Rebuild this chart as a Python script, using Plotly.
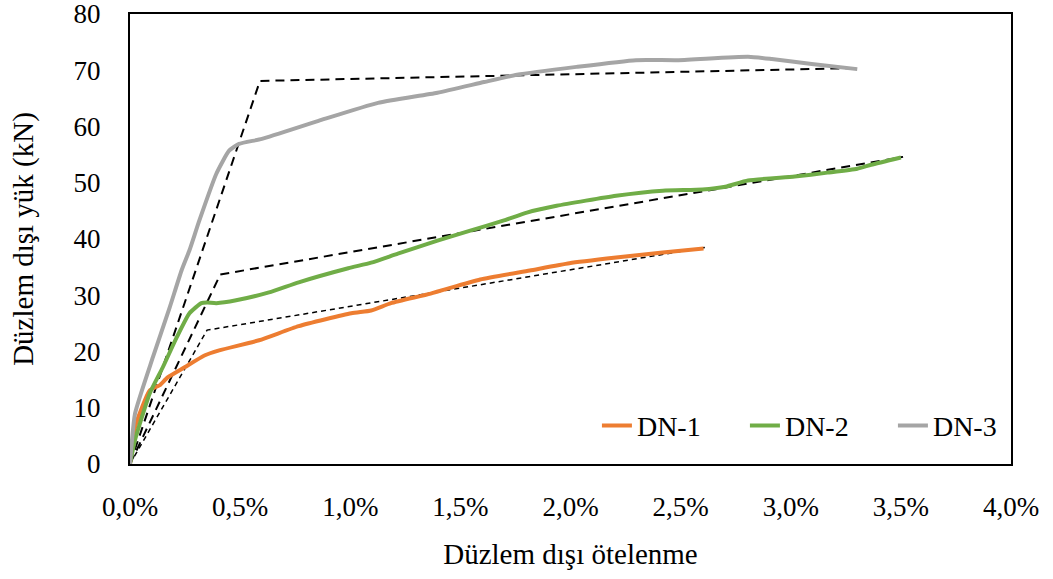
import plotly.graph_objects as go

# Measured curves (x in %, y in kN)
dn1_x = [0, 0.023, 0.09, 0.135, 0.171, 0.248, 0.338, 0.405, 0.586, 0.766, 1.005, 1.095, 1.185, 1.365, 1.59, 1.815, 1.995, 2.207, 2.419, 2.604]
dn1_y = [0, 6.6, 13.1, 14.0, 15.4, 17.2, 19.3, 20.2, 22.0, 24.5, 26.8, 27.3, 28.6, 30.3, 32.8, 34.4, 35.7, 36.7, 37.6, 38.3]

dn2_x = [0, 0.023, 0.09, 0.149, 0.212, 0.27, 0.324, 0.351, 0.392, 0.482, 0.631, 0.766, 0.991, 1.095, 1.216, 1.396, 1.545, 1.698, 1.802, 1.937, 2.207, 2.419, 2.599, 2.703, 2.806, 3.018, 3.167, 3.302, 3.365, 3.5]
dn2_y = [0, 4.3, 12.6, 17.2, 22.5, 26.8, 28.6, 28.7, 28.6, 29.1, 30.5, 32.3, 34.8, 35.8, 37.4, 39.7, 41.5, 43.3, 44.7, 45.9, 47.7, 48.6, 48.8, 49.3, 50.4, 51.1, 51.8, 52.5, 53.2, 54.5]

dn3_x = [0, 0.023, 0.104, 0.18, 0.234, 0.27, 0.315, 0.392, 0.45, 0.495, 0.599, 0.856, 1.126, 1.396, 1.608, 1.757, 2.027, 2.297, 2.491, 2.806, 2.914, 3.095, 3.302]
dn3_y = [0, 9.0, 19.0, 27.8, 34.4, 38.0, 43.3, 51.6, 55.7, 56.9, 57.8, 61.0, 64.2, 66.0, 67.9, 69.2, 70.6, 71.8, 71.8, 72.4, 72.0, 71.1, 70.2]

# Bilinear idealisations
bl1_x = [0, 0.35, 2.61]
bl1_y = [0, 23.8, 38.5]
bl2_x = [0, 0.41, 3.51]
bl2_y = [0, 33.7, 54.6]
bl3_x = [0, 0.59, 3.31]
bl3_y = [0, 68.1, 70.4]

x_ticks = [0, 0.5, 1.0, 1.5, 2.0, 2.5, 3.0, 3.5, 4.0]
y_ticks = [0, 10, 20, 30, 40, 50, 60, 70, 80]

FONT = "Liberation Serif, Times New Roman, serif"

def pct(v):
    return [a / 100 for a in v]

fig = go.Figure()
for bx, by, w, d in [(bl1_x, bl1_y, 1.5, "5px,4px"), (bl2_x, bl2_y, 2, "9px,6px"), (bl3_x, bl3_y, 2, "9px,6px")]:
    fig.add_trace(go.Scatter(x=pct(bx), y=by, mode="lines", showlegend=False,
                             line=dict(color="black", width=w, dash=d)))

for name, xs, ys, col in [("DN-1", dn1_x, dn1_y, "#ED7D31"),
                          ("DN-2", dn2_x, dn2_y, "#70AD47"),
                          ("DN-3", dn3_x, dn3_y, "#A5A5A5")]:
    fig.add_trace(go.Scatter(x=pct(xs), y=ys, mode="lines", name=name,
                             line=dict(color=col, width=4, shape="spline", smoothing=0.5)))

fig.update_layout(
    width=1053, height=579,
    margin=dict(l=130, r=35, t=14, b=115),
    paper_bgcolor="white", plot_bgcolor="white",
    font=dict(family=FONT, size=27, color="black"),
    separators=", ",
    legend=dict(orientation="h", x=0.53, y=0.085, xanchor="left", yanchor="middle",
                bgcolor="rgba(0,0,0,0)", font=dict(size=28), itemwidth=30,
                entrywidth=103, entrywidthmode="pixels",
                traceorder="normal"),
    xaxis=dict(range=[0, 0.04], tickvals=pct(x_ticks), tickformat=".1%",
               showgrid=False, zeroline=False, showline=True, linecolor="black",
               linewidth=2, mirror=True, ticks="", ticklabelstandoff=18, automargin=False,
               ticklabeloverflow="allow",
               title=dict(text="Düzlem dışı ötelenme", standoff=22, font=dict(size=29))),
    yaxis=dict(range=[0, 80], tickvals=y_ticks,
               showgrid=False, zeroline=False, showline=True, linecolor="black",
               linewidth=2, mirror=True, ticks="", ticklabelstandoff=22, automargin=False,
               ticklabeloverflow="allow",
               title=dict(text="Düzlem dışı yük (kN)", standoff=31, font=dict(size=29))),
)

fig.write_html("out.html", config={"displayModeBar": False},
               post_script="document.body.style.margin='0';document.body.style.overflow='hidden';")
